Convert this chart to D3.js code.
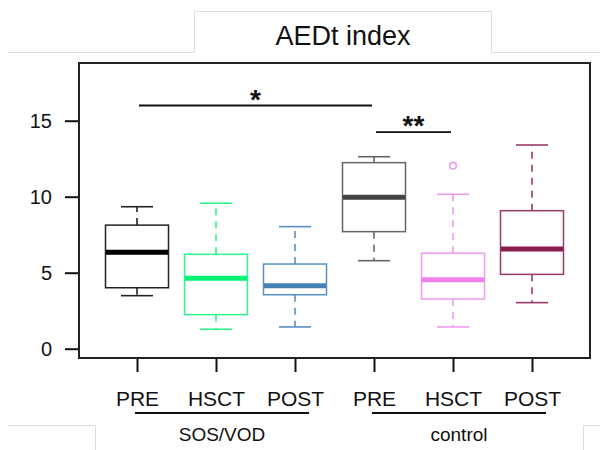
<!DOCTYPE html>
<html><head><meta charset="utf-8">
<script src="https://cdn.jsdelivr.net/npm/d3@7/dist/d3.min.js"></script>
<style>
html,body{margin:0;padding:0;background:#fff;}
svg{display:block;font-family:"Liberation Sans",Arial,sans-serif;}
</style></head>
<body>
<script>
// ---- data ----
const categories = ["PRE","HSCT","POST","PRE","HSCT","POST"];
const groups = ["SOS/VOD","control"];
const groupMembers = [[0,1,2],[3,4,5]];
const whiskerLow  = [3.49, 1.28, 1.43, 5.79, 1.43, 3.03];
const q1          = [4.01, 2.24, 3.55, 7.70, 3.27, 4.89];
const median      = [6.34, 4.63, 4.14, 9.96, 4.54, 6.56];
const q3          = [8.13, 6.21, 5.57, 12.24, 6.28, 9.08];
const whiskerHigh = [9.34, 9.57, 8.03, 12.63, 10.16, 13.40];
const outliers    = [[], [], [], [], [12.04], []];
const yTicks = [0, 5, 10, 15];
const sigFrom  = [0, 3];
const sigTo    = [3, 4];
const sigLevel = [16.0, 14.25];
const sigLabel = ["*", "**"];
const title = "AEDt index";

// ---- styles ----
const strokeColors = ["#222222", "#2ef58c", "#5a8fc3", "#666666", "#f29af0", "#9a3a68"];
const medianColors = ["#000000", "#00f576", "#4682b4", "#444444", "#ee80ea", "#8a1d4f"];

const W = 600, H = 450;
const svg = d3.select("body").append("svg").attr("width", W).attr("height", H);

const plot = {left: 79, right: 590, top: 63, bottom: 358};

const y = d3.scaleLinear().domain([0, 15]).range([348.7, 120.7]);
const idx = categories.map((d, i) => i);
const x = d3.scalePoint().domain(idx).range([137, 532]);
const boxW = 63, capW = 32;

// decorative light frame lines
const frame = svg.append("g").attr("fill", "none").attr("stroke", "#dddddd").attr("stroke-width", 1);
frame.append("path").attr("d", "M8,52.5H194.5V11.5H491.5V52.5H600");
frame.append("path").attr("d", "M8,425.5H95.5V450M583.5,450V425.5H600");

// title
svg.append("text").attr("x", 343).attr("y", 45).attr("text-anchor", "middle")
  .attr("font-size", 27).attr("fill", "#111").text(title);

// y axis
const yAxis = d3.axisLeft(y).tickValues(yTicks).tickSize(14).tickPadding(13);
const yg = svg.append("g").attr("transform", `translate(${plot.left},0)`).call(yAxis);
yg.select(".domain").remove();
yg.selectAll(".tick line").attr("stroke", "#111").attr("stroke-width", 2);
yg.selectAll(".tick text").attr("font-size", 20).attr("fill", "#111")
  .attr("font-family", "Liberation Sans, Arial, sans-serif");

// x axis
const xAxis = d3.axisBottom(x).tickFormat(i => categories[i]).tickSize(14).tickPadding(19);
const xg = svg.append("g").attr("transform", `translate(0,${plot.bottom})`).call(xAxis);
xg.select(".domain").remove();
xg.selectAll(".tick line").attr("stroke", "#111").attr("stroke-width", 2);
xg.selectAll(".tick text").attr("font-size", 21).attr("fill", "#111")
  .attr("font-family", "Liberation Sans, Arial, sans-serif");

// boxes
const boxes = svg.append("g");
idx.forEach(i => {
  const cx = x(i);
  const g = boxes.append("g");
  const sc = strokeColors[i];
  // whiskers
  g.append("line").attr("x1", cx).attr("x2", cx).attr("y1", y(q3[i])).attr("y2", y(whiskerHigh[i]))
    .attr("stroke", sc).attr("stroke-width", 1.6).attr("stroke-dasharray", "7,6");
  g.append("line").attr("x1", cx).attr("x2", cx).attr("y1", y(q1[i])).attr("y2", y(whiskerLow[i]))
    .attr("stroke", sc).attr("stroke-width", 1.6).attr("stroke-dasharray", "7,6");
  // caps
  [whiskerHigh[i], whiskerLow[i]].forEach(v => {
    g.append("line").attr("x1", cx - capW / 2).attr("x2", cx + capW / 2)
      .attr("y1", y(v)).attr("y2", y(v)).attr("stroke", sc).attr("stroke-width", 1.6);
  });
  // box
  g.append("rect").attr("x", cx - boxW / 2).attr("width", boxW)
    .attr("y", y(q3[i])).attr("height", y(q1[i]) - y(q3[i]))
    .attr("fill", "#fff").attr("stroke", sc).attr("stroke-width", 1.5);
  // median
  g.append("line").attr("x1", cx - boxW / 2 + 0.5).attr("x2", cx + boxW / 2 - 0.5)
    .attr("y1", y(median[i])).attr("y2", y(median[i]))
    .attr("stroke", medianColors[i]).attr("stroke-width", 5);
  // outliers
  outliers[i].forEach(v => {
    g.append("circle").attr("cx", cx).attr("cy", y(v)).attr("r", 3.3)
      .attr("fill", "none").attr("stroke", sc).attr("stroke-width", 1.6);
  });
});

// significance bars
const sig = svg.append("g");
sigFrom.forEach((f, k) => {
  const x1 = x(f) + 2, x2 = x(sigTo[k]) - 2, yy = y(sigLevel[k]);
  sig.append("line").attr("x1", x1).attr("x2", x2).attr("y1", yy).attr("y2", yy)
    .attr("stroke", "#111").attr("stroke-width", 1.8);
  sig.append("text").attr("x", (x1 + x2) / 2).attr("y", yy + 3)
    .attr("text-anchor", "middle").attr("font-size", 28).attr("font-weight", "bold")
    .attr("fill", "#111").text(sigLabel[k]);
});

// plot frame
svg.append("rect").attr("x", plot.left).attr("y", plot.top)
  .attr("width", plot.right - plot.left).attr("height", plot.bottom - plot.top)
  .attr("fill", "none").attr("stroke", "#222").attr("stroke-width", 2);

// group underlines and labels
const grp = svg.append("g");
groupMembers.forEach((m, k) => {
  const x1 = x(m[0]) - 2, x2 = x(m[m.length - 1]) + 14;
  grp.append("line").attr("x1", x1).attr("x2", x2).attr("y1", 413).attr("y2", 413)
    .attr("stroke", "#111").attr("stroke-width", 2);
  grp.append("text").attr("x", (x1 + x2) / 2).attr("y", 441).attr("text-anchor", "middle")
    .attr("font-size", 19).attr("fill", "#111").text(groups[k]);
});
</script>
</body></html>
